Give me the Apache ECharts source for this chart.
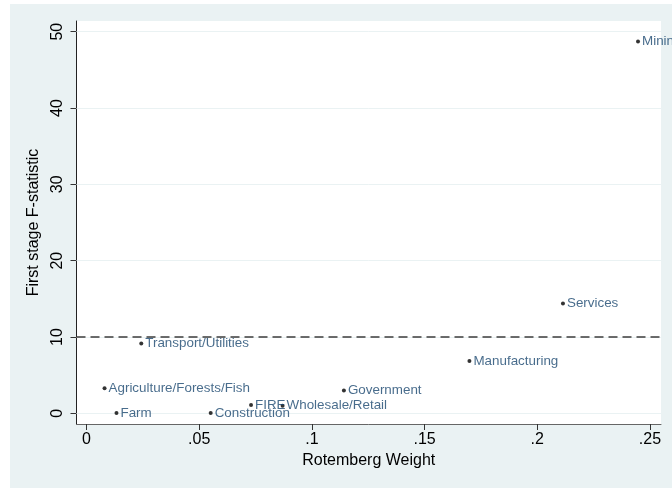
<!DOCTYPE html>
<html>
<head>
<meta charset="utf-8">
<script src="https://cdn.jsdelivr.net/npm/echarts@6/dist/echarts.min.js"></script>
<style>
html,body{margin:0;padding:0;background:#fff;}
#c{width:672px;height:489px;}
</style>
</head>
<body>
<div id="c"></div>
<script>
var industries = ["Mining","Services","Manufacturing","Transport/Utilities","Government","Agriculture/Forests/Fish","FIRE","Wholesale/Retail","Farm","Construction"];
var rotembergWeight = [0.2447,0.2114,0.1699,0.0243,0.1142,0.0080,0.0730,0.0870,0.0133,0.0551];
var firstStageF = [48.7,14.4,6.85,9.15,3.0,3.3,1.1,1.0,0.05,0.05];
var xTicks = [0,0.05,0.1,0.15,0.2,0.25];
var yTicks = [0,10,20,30,40,50];
var threshold = 10;

var FONT = '"Liberation Sans", Arial, sans-serif';
var chart = echarts.init(document.getElementById('c'), null, {renderer:'canvas'});
var pts = industries.map(function(n,i){ return {name:n, value:[rotembergWeight[i], firstStageF[i]]}; });

function fmtX(v){ if (v === 0) return '0'; var s = String(Math.round(v*100)/100); return s.replace(/^0\./,'.'); }

chart.setOption({
  animation:false,
  backgroundColor:'#EAF2F3',
  graphic:[
    {type:'rect', shape:{x:0,y:0,width:672,height:4}, style:{fill:'#fff'}, z:100},
    {type:'rect', shape:{x:0,y:0,width:10,height:489}, style:{fill:'#fff'}, z:100},
    {type:'rect', shape:{x:0,y:488,width:672,height:1}, style:{fill:'#fff'}, z:100}
  ],
  grid:{left:76.5, right:11, top:21, bottom:65, show:true, backgroundColor:'#fff', borderWidth:0},
  xAxis:{
    type:'value', min:-0.00444, max:0.2549,
    name:'Rotemberg Weight', nameLocation:'middle', nameGap:26,
    nameTextStyle:{fontFamily:FONT, fontSize:16, color:'#000'},
    axisLine:{show:true, onZero:false, lineStyle:{color:'#666', width:1}},
    axisTick:{show:true, length:6, customValues:xTicks, lineStyle:{color:'#333'}},
    axisLabel:{customValues:xTicks, formatter:fmtX, fontFamily:FONT, fontSize:16, color:'#000', margin:8},
    splitLine:{show:false}
  },
  yAxis:{
    type:'value', min:-1.40, max:51.40,
    name:'First stage F-statistic', nameLocation:'middle', nameRotate:90, nameGap:24,
    nameTextStyle:{fontFamily:FONT, fontSize:16, color:'#000'},
    axisLine:{show:true, onZero:false, lineStyle:{color:'#222', width:1}},
    axisTick:{show:true, length:6, customValues:yTicks, lineStyle:{color:'#333'}},
    axisLabel:{customValues:yTicks, rotate:90, fontFamily:FONT, fontSize:16, color:'#000', margin:11},
    splitLine:{show:false}
  },
  series:[{
    type:'scatter',
    data:[],
    silent:true,
    z:1,
    markLine:{
      silent:true, symbol:'none', label:{show:false}, z:1,
      data: yTicks.map(function(v){ return {yAxis:v, lineStyle:{color:'#EAF2F3', width:1, type:'solid'}}; })
    }
  },{
    type:'scatter',
    data:pts,
    symbol:'circle', symbolSize:4,
    itemStyle:{color:'#000'},
    label:{show:true, position:'right', distance:2, formatter:'{b}', fontFamily:FONT, fontSize:13.4, color:'#1a476f'},
    markLine:{
      silent:true, symbol:'none', label:{show:false},
      data:[{yAxis:threshold, lineStyle:{color:'#3c3c3c', width:1.6, type:[9,5]}}]
    },
    z:3
  }]
});
</script>
</body>
</html>
